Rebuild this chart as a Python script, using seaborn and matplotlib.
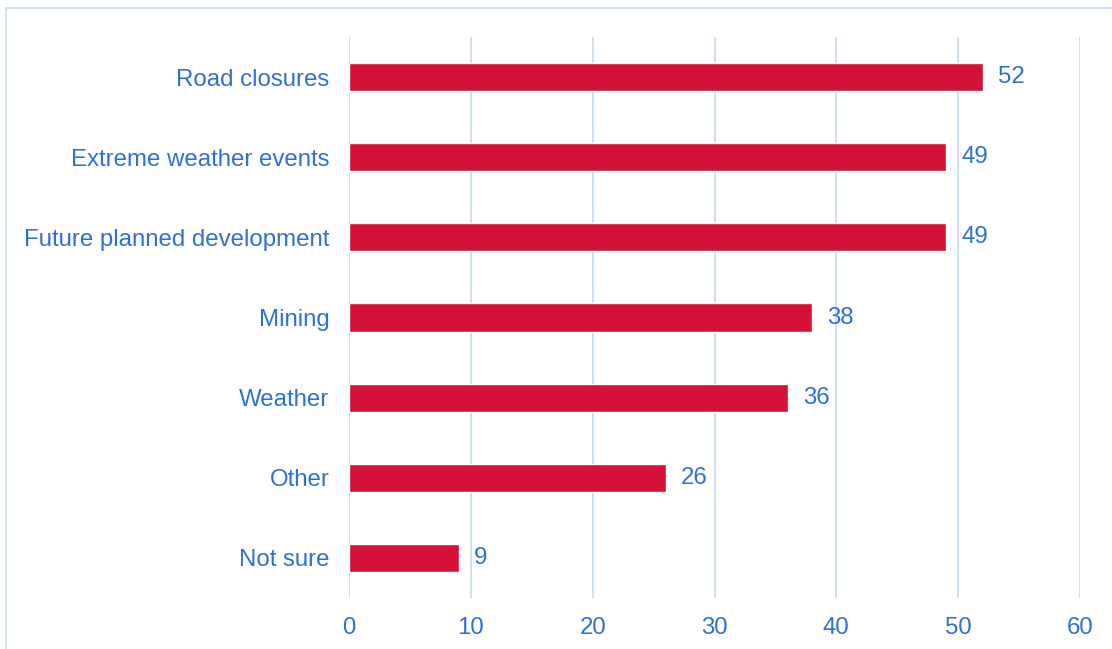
import matplotlib
matplotlib.use("Agg")
import matplotlib.pyplot as plt
import seaborn as sns
import pandas as pd
from matplotlib.patches import Rectangle

categories = ["Road closures", "Extreme weather events", "Future planned development",
              "Mining", "Weather", "Other", "Not sure"]
values = [52, 49, 49, 38, 36, 26, 9]
x_ticks = [0, 10, 20, 30, 40, 50, 60]

BAR = "#D41137"
TXT = "#2F6FDA"
GRID = "#C9DBF6"

sns.set_theme(style="white")
plt.rcParams['font.family'] = ['Liberation Sans', 'DejaVu Sans']

df = pd.DataFrame({"cat": categories, "val": values})

fig = plt.figure(figsize=(11.12, 6.49), dpi=100)
ax = fig.add_axes([349/1112, 51/649, 731/1112, 561/649])

sns.barplot(data=df, x="val", y="cat", color=BAR, width=0.35, ax=ax, saturation=1)

ax.set_xlim(0, 60)
ax.set_ylim(6.5, -0.5)
ax.set_xticks(x_ticks)
ax.set_xticklabels([str(t) for t in x_ticks])
ax.set_xlabel("")
ax.set_ylabel("")
for s in ax.spines.values():
    s.set_visible(False)
ax.grid(axis="x", color=GRID, linewidth=1.3)
ax.grid(axis="y", visible=False)
ax.set_axisbelow(True)
ax.tick_params(axis="both", length=0, labelsize=17.3, labelcolor=TXT)
ax.tick_params(axis="y", pad=14)
ax.tick_params(axis="x", pad=14)

for c in ax.containers:
    ax.bar_label(c, labels=[str(v) for v in values], padding=11, fontsize=17.3, color=TXT)

fig.patches.append(Rectangle((6/1112, -0.2), 1.2, 1.2 - 8/649, transform=fig.transFigure,
                             fill=False, edgecolor=GRID, linewidth=1.2))

fig.savefig("out.png", dpi=100, facecolor="white")
